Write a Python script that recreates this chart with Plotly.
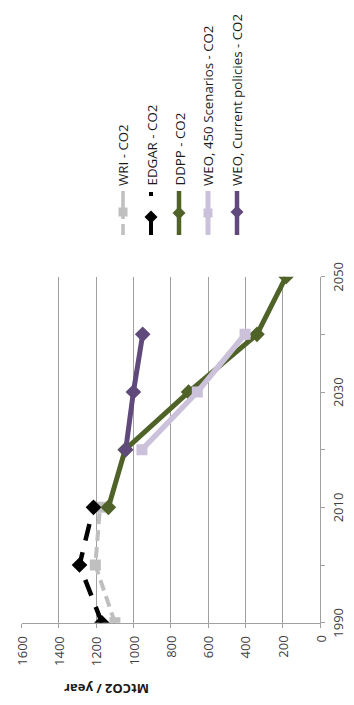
import plotly.graph_objects as go

# ---------------- data ----------------
series_names = ["WRI - CO2", "EDGAR - CO2", "DDPP - CO2",
                "WEO, 450 Scenarios - CO2", "WEO, Current policies - CO2"]

wri_years = [1990, 2000, 2010]
wri_values = [1100, 1205, 1180]

edgar_years = [1990, 2000, 2010]
edgar_values = [1170, 1290, 1215]

ddpp_years = [2010, 2020, 2030, 2040, 2050]
ddpp_values = [1135, 1045, 705, 338, 182]

weo450_years = [2020, 2030, 2040]
weo450_values = [955, 658, 402]

weocp_years = [2020, 2030, 2040]
weocp_values = [1042, 1001, 951]

year_ticks = [1990, 2000, 2010, 2020, 2030, 2040, 2050]
year_label_vals = [1990, 2010, 2030, 2050]
year_tick_labels = ["1990", "2010", "2030", "2050"]
value_ticks = [0, 200, 400, 600, 800, 1000, 1200, 1400, 1600]
value_tick_labels = ["0", "200", "400", "600", "800", "1000", "1200", "1400", "1600"]
axis_title = "MtCO2 / year"

# ---------------- styles / layout ----------------
PAGE_W, PAGE_H = 354, 705
OFF = 8  # default body margin of the written html page
W, H = PAGE_W - OFF, PAGE_H - OFF
FONT = "Open Sans"
colors = ["#BFBFBF", "#000000", "#4F6228", "#CCC1DA", "#604A7B"]
dashes = ["11px,6px", "17px,12px", "solid", "solid", "solid"]
leg_dashes = ["11px,5px,30px", "22px,17px,4px,30px", "solid", "solid", "solid"]
widths = [4, 4.5, 5, 5.5, 5]
symbols = ["square", "diamond", "diamond", "square", "diamond"]
msizes = [11, 12, 12, 11, 12]

all_years = [wri_years, edgar_years, ddpp_years, weo450_years, weocp_years]
all_values = [wri_values, edgar_values, ddpp_values, weo450_values, weocp_values]


def px(x):  # page pixel -> paper
    return (x - OFF) / W


def py(y):
    return 1 - (y - OFF) / H


fig = go.Figure()

for i in range(5):
    fig.add_trace(go.Scatter(
        x=all_values[i], y=all_years[i], mode="lines+markers",
        name=series_names[i],
        line=dict(color=colors[i], width=widths[i], dash=dashes[i]),
        marker=dict(symbol=symbols[i], size=msizes[i], color=colors[i],
                    line=dict(width=0)),
        xaxis="x", yaxis="y", showlegend=False, hoverinfo="skip"))

# rotated legend samples, drawn on a pixel overlay
leg_x = [123, 151, 179, 208, 237]
leg_top, leg_bot = 191, 235
leg_mid = [212, 217, 213, 213, 212]
for i in range(5):
    fig.add_trace(go.Scatter(
        x=[leg_x[i], leg_x[i]], y=[leg_bot, leg_top], mode="lines",
        line=dict(color=colors[i], width=widths[i] - 0.5, dash=leg_dashes[i]),
        xaxis="x2", yaxis="y2", showlegend=False, hoverinfo="skip"))
    fig.add_trace(go.Scatter(
        x=[leg_x[i]], y=[leg_mid[i]], mode="markers",
        marker=dict(symbol=symbols[i], size=msizes[i] - 2, color=colors[i],
                    line=dict(width=0)),
        xaxis="x2", yaxis="y2", showlegend=False, hoverinfo="skip"))

annotations = []
for i in range(5):
    annotations.append(dict(
        text=series_names[i], x=px(leg_x[i]), y=py(188), xref="paper", yref="paper",
        xanchor="center", yanchor="bottom", textangle=-90, showarrow=False,
        font=dict(family=FONT, size=13.3, color="#1a1a1a")))
annotations.append(dict(
    text="<b>" + axis_title + "</b>", x=px(107), y=py(689), xref="paper", yref="paper",
    xanchor="center", yanchor="middle", textangle=180, showarrow=False,
    font=dict(family=FONT, size=13, color="#1a1a1a")))
# tick labels (rotated, centred on their ticks)
for v, t in zip(value_ticks, value_tick_labels):
    annotations.append(dict(
        text=t, x=v, xref="x", y=py(634), yref="paper",
        xanchor="center", yanchor="top", textangle=-90, showarrow=False,
        font=dict(family=FONT, size=13, color="#404040")))
for v, t in zip(year_label_vals, year_tick_labels):
    annotations.append(dict(
        text=t, x=px(338), xref="paper", y=v, yref="y",
        xanchor="center", yanchor="middle", textangle=-90, showarrow=False,
        font=dict(family=FONT, size=13, color="#404040")))

plot_left, plot_right = 21.7, 320
plot_top, plot_bottom = 276.7, 622.7

fig.update_layout(
    template="none",
    width=W, height=H,
    margin=dict(l=0, r=0, t=0, b=0),
    paper_bgcolor="white", plot_bgcolor="rgba(0,0,0,0)",
    showlegend=False,
    annotations=annotations,
    xaxis=dict(
        domain=[px(plot_left), px(plot_right)],
        range=[1600, 0], anchor="y",
        tickmode="array", tickvals=value_ticks, showticklabels=False,
        ticks="outside", ticklen=4, tickcolor="#A0A0A0",
        showgrid=True, gridcolor="#A0A0A0", gridwidth=1,
        showline=True, linecolor="#A0A0A0", linewidth=1,
        zeroline=False, automargin=False, fixedrange=True),
    yaxis=dict(
        domain=[py(plot_bottom), py(plot_top)],
        range=[1990, 2050], anchor="x", side="right",
        tickmode="array", tickvals=year_ticks, showticklabels=False,
        ticks="outside", ticklen=4, tickcolor="#A0A0A0",
        showgrid=False, showline=True, linecolor="#A0A0A0", linewidth=1,
        zeroline=False, automargin=False, fixedrange=True),
    xaxis2=dict(domain=[0, 1], range=[OFF, PAGE_W], anchor="y2", visible=False,
                fixedrange=True),
    yaxis2=dict(domain=[0, 1], range=[PAGE_H, OFF], anchor="x2", visible=False,
                fixedrange=True),
)

fig.write_html("out.html")
